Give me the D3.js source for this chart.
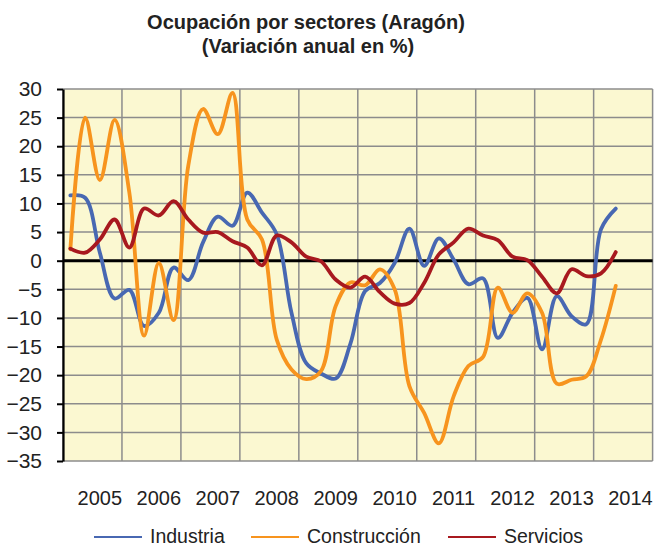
<!DOCTYPE html>
<html>
<head>
<meta charset="utf-8">
<script src="https://cdn.jsdelivr.net/npm/d3@7"></script>
<style>
  body { margin: 0; background: #fff; }
  svg { font-family: "Liberation Sans", Arial, sans-serif; }
</style>
</head>
<body>
<script>
// quarterly data, 2005 T1 .. 2014 T2
var years = ["2005", "2006", "2007", "2008", "2009", "2010", "2011", "2012", "2013", "2014"];
var yTicks = [30, 25, 20, 15, 10, 5, 0, -5, -10, -15, -20, -25, -30, -35];

var industria = [11.4, 11.0, 1.4, -6.6, -5.1, -11.4, -9.1, -1.2, -3.4, 3.2,
  7.7, 6.1, 11.9, 8.4, 4.6, -9.1, -17.9, -19.7, -20.6, -14.5,
  -5.3, -3.9, -0.4, 5.6, -0.9, 3.9, 0.2, -4.1, -3.1, -13.5,
  -9.1, -6.5, -15.5, -6.2, -9.7, -11.1, 5.5, 9.1];

var construccion = [2.0, 25.0, 14.1, 24.6, 11.9, -13.1, -0.4, -10.4, 16.6, 26.5,
  22.1, 29.3, 7.2, 3.7, -13.8, -19.0, -20.7, -19.3, -7.9, -3.8,
  -4.3, -1.5, -5.0, -21.9, -26.6, -31.9, -23.7, -18.4, -16.8, -4.7,
  -9.1, -5.7, -9.1, -21.5, -20.8, -20.2, -13.8, -4.4];

var servicios = [2.1, 1.4, 3.7, 7.2, 2.3, 9.1, 7.9, 10.4, 7.2, 4.9,
  5.0, 3.4, 2.3, -0.8, 4.4, 3.2, 0.7, -0.1, -3.3, -4.7,
  -2.8, -5.5, -7.5, -7.4, -3.9, 1.1, 3.2, 5.6, 4.4, 3.6,
  0.7, 0.1, -2.8, -5.7, -1.5, -2.7, -2.2, 1.5];

var series = [
  {name: "Industria", values: industria, color: "#4868B2"},
  {name: "Construcción", values: construccion, color: "#F7941E"},
  {name: "Servicios", values: servicios, color: "#A8191F"}
];

var width = 657, height = 548;
var plot = {left: 63, right: 652.6, top: 89, bottom: 461};

var svg = d3.select("body").append("svg")
  .attr("width", width)
  .attr("height", height);

var x = d3.scaleLinear()
  .domain([0, years.length * 4])
  .range([plot.left, plot.right]);

var y = d3.scaleLinear()
  .domain([-35, 30])
  .range([plot.bottom, plot.top]);

// background
svg.append("rect")
  .attr("x", plot.left)
  .attr("y", plot.top)
  .attr("width", plot.right - plot.left)
  .attr("height", plot.bottom - plot.top)
  .attr("fill", "#FBF8D1");

// horizontal grid
svg.append("g")
  .selectAll("line")
  .data(yTicks)
  .enter().append("line")
  .attr("x1", plot.left)
  .attr("x2", plot.right)
  .attr("y1", function(d) { return y(d); })
  .attr("y2", function(d) { return y(d); })
  .attr("stroke", "#8C8C8C")
  .attr("stroke-width", 1.5);

// vertical grid, one line per year boundary
svg.append("g")
  .selectAll("line")
  .data(d3.range(years.length + 1))
  .enter().append("line")
  .attr("x1", function(d) { return x(d * 4); })
  .attr("x2", function(d) { return x(d * 4); })
  .attr("y1", plot.top)
  .attr("y2", plot.bottom)
  .attr("stroke", "#8C8C8C")
  .attr("stroke-width", 1.5);

// y axis
var yAxis = d3.axisLeft(y)
  .tickValues(yTicks)
  .tickSize(6)
  .tickSizeOuter(0)
  .tickPadding(15);

var gy = svg.append("g")
  .attr("transform", "translate(" + plot.left + ",0)")
  .call(yAxis);

gy.select(".domain").attr("stroke", "#000").attr("stroke-width", 2.2);
gy.selectAll(".tick line").attr("stroke", "#000").attr("stroke-width", 2);
gy.selectAll(".tick text")
  .attr("font-size", "21px")
  .attr("fill", "#222")
  .attr("font-family", "Liberation Sans, Arial, sans-serif");

// year labels, placed under the third quarter of each year
svg.append("g")
  .selectAll("text")
  .data(years)
  .enter().append("text")
  .attr("x", function(d, i) { return x(i * 4 + 2.5); })
  .attr("y", 505)
  .attr("text-anchor", "middle")
  .attr("font-size", "20px")
  .attr("fill", "#222")
  .text(function(d) { return d; });

// zero line
svg.append("line")
  .attr("x1", plot.left)
  .attr("x2", plot.right)
  .attr("y1", y(0))
  .attr("y2", y(0))
  .attr("stroke", "#000")
  .attr("stroke-width", 3);

var line = d3.line()
  .x(function(d, i) { return x(i + 0.5); })
  .y(function(d) { return y(d); })
  .curve(d3.curveCatmullRom.alpha(0.5));

svg.append("g")
  .selectAll("path")
  .data(series)
  .enter().append("path")
  .attr("d", function(d) { return line(d.values); })
  .attr("fill", "none")
  .attr("stroke", function(d) { return d.color; })
  .attr("stroke-width", 3.8)
  .attr("stroke-linejoin", "round")
  .attr("stroke-linecap", "round");

// title
svg.append("text")
  .attr("x", 306)
  .attr("y", 29)
  .attr("text-anchor", "middle")
  .attr("font-size", "20px")
  .attr("font-weight", "bold")
  .attr("fill", "#222")
  .text("Ocupación por sectores (Aragón)");

svg.append("text")
  .attr("x", 308)
  .attr("y", 53)
  .attr("text-anchor", "middle")
  .attr("font-size", "20px")
  .attr("font-weight", "bold")
  .attr("fill", "#222")
  .text("(Variación anual en %)");

// legend
var legendX = [94, 251, 448];
var legend = svg.append("g")
  .selectAll("g")
  .data(series)
  .enter().append("g")
  .attr("transform", function(d, i) { return "translate(" + legendX[i] + ",537)"; });

legend.append("line")
  .attr("x1", 0)
  .attr("x2", 48)
  .attr("stroke", function(d) { return d.color; })
  .attr("stroke-width", 2);

legend.append("text")
  .attr("x", 56)
  .attr("y", 6)
  .attr("font-size", "19.5px")
  .attr("fill", "#222")
  .text(function(d) { return d.name; });
</script>
</body>
</html>
